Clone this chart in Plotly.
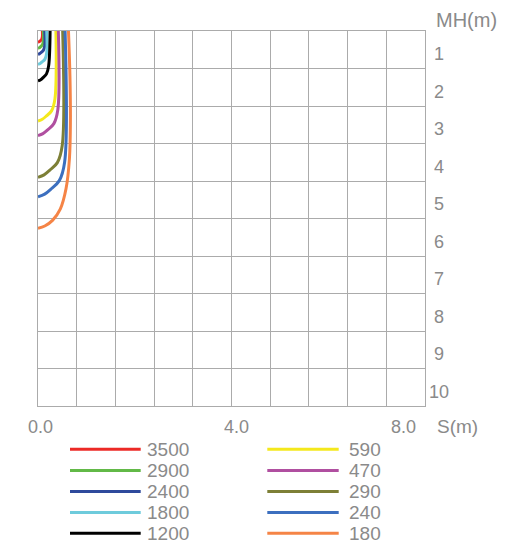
import plotly.graph_objects as go

# ---- data ----
series_names = ["3500", "2900", "2400", "1800", "1200", "590", "470", "290", "240", "180"]
series_colors = ["#ec2a26", "#62b947", "#2f4a9c", "#6ecbdc", "#000000",
                 "#f4e81c", "#b04fa0", "#7d7f36", "#3c6fbf", "#f58446"]

s3500_s = [0.09, 0.09, 0.072, 0.045, 0.022, 0.0]
s3500_mh = [0.0, 0.15, 0.23, 0.265, 0.288, 0.30]
s2900_s = [0.11, 0.11, 0.088, 0.055, 0.028, 0.0]
s2900_mh = [0.0, 0.275, 0.375, 0.417, 0.446, 0.46]
s2400_s = [0.14, 0.14, 0.112, 0.07, 0.035, 0.0]
s2400_mh = [0.0, 0.385, 0.511, 0.566, 0.602, 0.62]
s1800_s = [0.18, 0.18, 0.144, 0.09, 0.045, 0.0]
s1800_mh = [0.0, 0.588, 0.75, 0.82, 0.867, 0.89]
s1200_s = [0.25, 0.22, 0.176, 0.11, 0.055, 0.0]
s1200_mh = [0.0, 0.93, 1.144, 1.237, 1.299, 1.33]
s590_s = [0.37, 0.35, 0.28, 0.175, 0.088, 0.0]
s590_mh = [0.0, 1.81, 2.13, 2.264, 2.355, 2.40]
s470_s = [0.42, 0.41, 0.328, 0.205, 0.103, 0.0]
s470_mh = [0.0, 2.10, 2.47, 2.63, 2.737, 2.79]
s290_s = [0.51, 0.50, 0.40, 0.25, 0.125, 0.0]
s290_mh = [0.0, 3.06, 3.51, 3.706, 3.836, 3.90]
s240_s = [0.56, 0.55, 0.44, 0.275, 0.138, 0.0]
s240_mh = [0.0, 3.50, 3.99, 4.207, 4.349, 4.42]
s180_s = [0.63, 0.66, 0.67, 0.65, 0.58, 0.46, 0.30, 0.14, 0.0]
s180_mh = [0.0, 1.2, 2.4, 3.4, 4.2, 4.75, 5.05, 5.2, 5.26]

series_s = [s3500_s, s2900_s, s2400_s, s1800_s, s1200_s, s590_s, s470_s, s290_s, s240_s, s180_s]
series_mh = [s3500_mh, s2900_mh, s2400_mh, s1800_mh, s1200_mh, s590_mh, s470_mh, s290_mh, s240_mh, s180_mh]

x_tick_labels = ["0.0", "4.0", "8.0"]
x_tick_pos = [0.05, 4.1, 7.55]
y_tick_labels = ["1", "2", "3", "4", "5", "6", "7", "8", "9", "10"]
y_tick_pos = [0.62, 1.62, 2.62, 3.62, 4.62, 5.62, 6.62, 7.62, 8.62, 9.62]
x_title = "S(m)"
y_title = "MH(m)"

# ---- layout constants ----
W, H = 506, 544
ML, MR, MT, MB = 38, 81, 31, 138
PW, PH = W - ML - MR, H - MT - MB
GRID = "#ababab"
TXT = "#8a8a8a"
FONT = "Liberation Sans, Arial, Helvetica, sans-serif"


def px_to_paper_x(px):
    return (px - ML) / PW


def px_to_paper_y(py):
    return (H - MB - py) / PH


fig = go.Figure()
for name, col, xs, ys in zip(series_names, series_colors, series_s, series_mh):
    fig.add_trace(go.Scatter(x=xs, y=ys, mode="lines", name=name,
                             line=dict(color=col, width=3, shape="spline", smoothing=1.0),
                             showlegend=False, hoverinfo="name"))

annotations = []
for lab, pos in zip(x_tick_labels, x_tick_pos):
    annotations.append(dict(x=pos, xref="x", y=px_to_paper_y(426.5), yref="paper",
                            text=lab, showarrow=False, xanchor="center", yanchor="middle",
                            font=dict(size=18, color=TXT, family=FONT)))
annotations.append(dict(x=px_to_paper_x(435), xref="paper", y=px_to_paper_y(426.5), yref="paper",
                        text=x_title, showarrow=False, xanchor="left", yanchor="middle",
                        font=dict(size=19, color=TXT, family=FONT)))
for lab, pos in zip(y_tick_labels, y_tick_pos):
    annotations.append(dict(x=px_to_paper_x(439.5), xref="paper", y=pos, yref="y",
                            text=lab, showarrow=False, xanchor="center", yanchor="middle",
                            font=dict(size=18, color=TXT, family=FONT)))
annotations.append(dict(x=px_to_paper_x(434), xref="paper", y=px_to_paper_y(20), yref="paper",
                        text=y_title, showarrow=False, xanchor="left", yanchor="middle",
                        font=dict(size=20, color=TXT, family=FONT)))

# custom legend (two columns of five)
shapes = []
col_line_x = [(70, 140.7), (267.3, 338.7)]
col_text_x = [146, 348]
row_y = [449.3, 470.4, 491.5, 512.6, 533.3]
for i, (name, col) in enumerate(zip(series_names, series_colors)):
    c, r = divmod(i, 5)
    x0, x1 = col_line_x[c]
    yy = px_to_paper_y(row_y[r])
    shapes.append(dict(type="line", xref="paper", yref="paper",
                       x0=px_to_paper_x(x0), x1=px_to_paper_x(x1), y0=yy, y1=yy,
                       line=dict(color=col, width=3)))
    annotations.append(dict(x=px_to_paper_x(col_text_x[c]), xref="paper", y=yy, yref="paper",
                            text=name, showarrow=False, xanchor="left", yanchor="middle",
                            borderpad=0,
                            font=dict(size=19, color=TXT, family=FONT)))

fig.update_layout(
    width=W, height=H,
    margin=dict(l=ML, r=MR, t=MT, b=MB, pad=0),
    paper_bgcolor="white", plot_bgcolor="white",
    showlegend=False,
    annotations=annotations,
    shapes=shapes,
    xaxis=dict(range=[0, 8], tick0=0, dtick=0.8, showgrid=True, gridcolor=GRID, gridwidth=1,
               showticklabels=False, ticks="", zeroline=False, showline=True, linecolor=GRID,
               linewidth=1, mirror=True, fixedrange=True),
    yaxis=dict(range=[10, 0], tick0=0, dtick=1, showgrid=True, gridcolor=GRID, gridwidth=1,
               showticklabels=False, ticks="", zeroline=False, showline=True, linecolor=GRID,
               linewidth=1, mirror=True, fixedrange=True),
)

fig.write_html("out.html", config={"displayModeBar": False},
               post_script="document.body.style.margin='0';document.body.style.padding='0';")
